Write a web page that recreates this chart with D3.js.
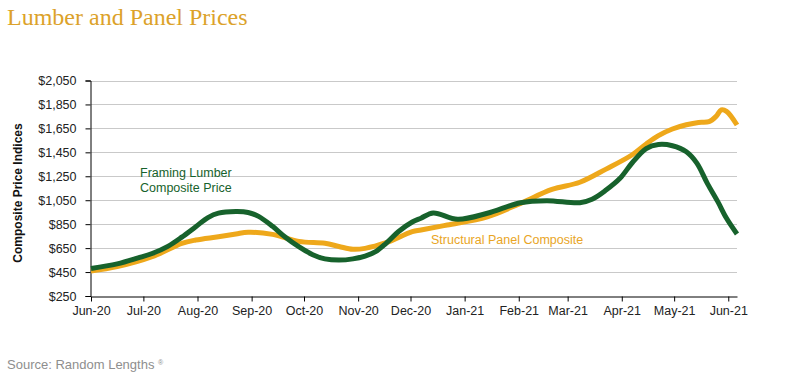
<!DOCTYPE html>
<html>
<head>
<meta charset="utf-8">
<script src="https://cdn.jsdelivr.net/npm/d3@7"></script>
<style>
  body { margin: 0; background: #fff; }
  svg { display: block; }
</style>
</head>
<body>
<svg id="chart" width="804" height="386"></svg>
<script>
const lumberDates = ["2020-06-01","2020-06-16","2020-06-28","2020-07-06","2020-07-15","2020-07-23","2020-07-31","2020-08-07","2020-08-13","2020-08-23","2020-08-30","2020-09-05","2020-09-13","2020-09-20","2020-09-28","2020-10-06","2020-10-13","2020-10-21","2020-10-29","2020-11-05","2020-11-11","2020-11-17","2020-11-24","2020-12-02","2020-12-07","2020-12-14","2020-12-28","2021-01-14","2021-02-02","2021-02-17","2021-03-08","2021-03-15","2021-03-23","2021-03-31","2021-04-07","2021-04-15","2021-04-22","2021-04-30","2021-05-08","2021-05-14","2021-05-20","2021-05-26","2021-05-31","2021-06-06"];
const lumberValues = [480,518,568,605,665,742,829,905,942,955,948,915,832,745,662,595,560,550,560,584,620,690,787,868,900,944,891,941,1029,1046,1029,1058,1135,1233,1363,1482,1515,1505,1455,1360,1191,1038,899,768];

const panelDates = ["2020-06-01","2020-06-16","2020-07-06","2020-07-23","2020-07-31","2020-08-13","2020-08-23","2020-08-30","2020-09-13","2020-09-28","2020-10-13","2020-10-21","2020-10-29","2020-11-05","2020-11-17","2020-12-02","2020-12-07","2020-12-22","2021-01-14","2021-02-02","2021-02-20","2021-03-08","2021-03-23","2021-04-07","2021-04-15","2021-04-22","2021-04-30","2021-05-08","2021-05-15","2021-05-21","2021-05-25","2021-05-28","2021-05-31","2021-06-06"];
const panelValues = [459,495,578,690,718,745,768,782,765,706,690,664,640,648,695,787,801,843,912,1024,1140,1200,1310,1430,1520,1590,1645,1680,1700,1706,1750,1804,1792,1678];

const yTicks = [250,450,650,850,1050,1250,1450,1650,1850,2050];
const xTickLabels = ["Jun-20","Jul-20","Aug-20","Sep-20","Oct-20","Nov-20","Dec-20","Jan-21","Feb-21","Mar-21","Apr-21","May-21","Jun-21"];

const parse = d3.timeParse("%Y-%m-%d");
const lumber = lumberDates.map((d,i)=>({date: parse(d), v: lumberValues[i]}));
const panel = panelDates.map((d,i)=>({date: parse(d), v: panelValues[i]}));
const tickDates = xTickLabels.map(s => d3.timeParse("%b-%y")(s));

const svg = d3.select("#chart");
const font = "'Liberation Sans', Arial, sans-serif";

const x = d3.scaleTime().domain([parse("2020-06-01"), parse("2021-06-06")]).range([91, 737]);
const y = d3.scaleLinear().domain([250, 2050]).range([296, 80.5]);

// title
svg.append("text").attr("x", 7).attr("y", 25)
  .attr("font-family", "Georgia, 'Liberation Serif', 'DejaVu Serif', serif")
  .attr("font-size", 24).attr("fill", "#dca22a")
  .text("Lumber and Panel Prices");

// gridlines
svg.append("g").selectAll("line").data(yTicks.filter(t => t !== 250)).join("line")
  .attr("x1", 91).attr("x2", 737)
  .attr("y1", d => Math.round(y(d)) + 0.5).attr("y2", d => Math.round(y(d)) + 0.5)
  .attr("stroke", "#c9c9c9").attr("stroke-width", 1);

// y axis
const yAxis = svg.append("g").attr("transform", "translate(90.5,0)")
  .call(d3.axisLeft(y).tickValues(yTicks).tickSize(5).tickPadding(9)
    .tickFormat(d => "$" + d3.format(",")(d)));
yAxis.select(".domain").attr("stroke", "#000");
yAxis.selectAll(".tick line").attr("stroke", "#000");
yAxis.selectAll("text").attr("font-family", font).attr("font-size", 12.5).attr("fill", "#222");

// x axis
const xAxis = svg.append("g").attr("transform", "translate(0,296.5)")
  .call(d3.axisBottom(x).tickValues(tickDates).tickSize(5).tickSizeOuter(0).tickPadding(5)
    .tickFormat((d,i) => xTickLabels[i]));
xAxis.select(".domain").attr("stroke", "#000");
xAxis.selectAll(".tick line").attr("stroke", "#000");
xAxis.selectAll("text").attr("font-family", font).attr("font-size", 12.5).attr("fill", "#222");

// y axis title
svg.append("text")
  .attr("transform", "translate(22,193) rotate(-90)")
  .attr("text-anchor", "middle")
  .attr("font-family", font).attr("font-weight", "bold").attr("font-size", 12)
  .attr("fill", "#111")
  .text("Composite Price Indices");

const line = d3.line().x(d => x(d.date)).y(d => y(d.v)).curve(d3.curveCatmullRom.alpha(0.5));

svg.append("path").datum(panel).attr("d", line)
  .attr("fill", "none").attr("stroke", "#eea81b").attr("stroke-width", 5)
  .attr("stroke-linejoin", "round");
svg.append("path").datum(lumber).attr("d", line)
  .attr("fill", "none").attr("stroke", "#17622c").attr("stroke-width", 5)
  .attr("stroke-linejoin", "round");

// series labels
const lab = svg.append("text").attr("font-family", font).attr("font-size", 12.5).attr("fill", "#17622c");
lab.append("tspan").attr("x", 140).attr("y", 177).text("Framing Lumber");
lab.append("tspan").attr("x", 140).attr("y", 192).text("Composite Price");

svg.append("text").attr("x", 431).attr("y", 244)
  .attr("font-family", font).attr("font-size", 12.5).attr("fill", "#e9a525")
  .text("Structural Panel Composite");

// source
const src = svg.append("text").attr("x", 7).attr("y", 369)
  .attr("font-family", font).attr("font-size", 13).attr("fill", "#8e8e8e");
src.append("tspan").text("Source: Random Lengths ");
src.append("tspan").attr("font-size", 7).attr("dy", -4).text("®");
</script>
</body>
</html>
